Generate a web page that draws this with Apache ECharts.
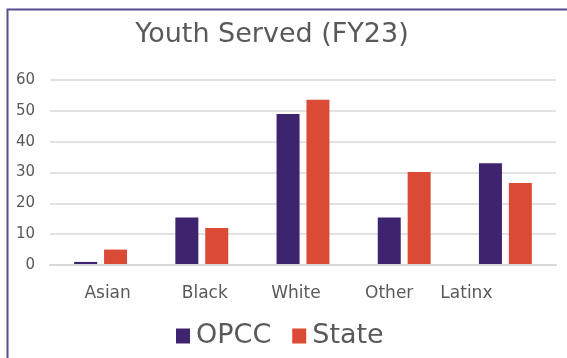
<!DOCTYPE html>
<html>
<head>
<meta charset="utf-8">
<script src="https://cdn.jsdelivr.net/npm/echarts@6/dist/echarts.min.js"></script>
<style>html,body{margin:0;padding:0;background:#fff;}#c{width:567px;height:358px;}</style>
</head>
<body>
<div id="c"></div>
<script>
const categories = ['Asian', 'Black', 'White', 'Other', 'Latinx'];
const opcc = [1, 15.4, 49, 15.4, 33];
const state = [5, 12, 53.6, 30.2, 26.6];
const seriesNames = ['OPCC', 'State'];
const yTicks = [0, 10, 20, 30, 40, 50, 60];

// label horizontal nudges (style only), matching the reference's label placement
const labelShift = { Asian: 7, Black: 3, White: -7, Other: -15, Latinx: -39 };
const rich = {};
categories.forEach(function (c, i) {
  const s = labelShift[c] || 0;
  rich['l' + i] = {
    fontSize: 17, color: '#595959', fontFamily: 'DejaVu Sans',
    padding: s >= 0 ? [0, 0, 0, 2 * s] : [0, -2 * s, 0, 0]
  };
});

const chart = echarts.init(document.getElementById('c'), null, { renderer: 'canvas' });
chart.setOption({
  animation: false,
  backgroundColor: '#ffffff',
  title: {
    text: 'Youth Served (FY23)',
    left: 267, textAlign: 'center', top: 16,
    textStyle: { fontFamily: 'DejaVu Sans', fontSize: 27, fontWeight: 'normal', color: '#595959' }
  },
  legend: {
    data: seriesNames,
    top: 315, left: 171,
    itemWidth: 14, itemHeight: 15, itemGap: 21,
    icon: 'rect',
    textStyle: { fontFamily: 'DejaVu Sans', fontSize: 27, color: '#595959', lineHeight: 32, padding: [0, 0, 0, 1] }
  },
  grid: { left: 50, right: 11, top: 80, bottom: 93, containLabel: false },
  xAxis: {
    type: 'category',
    data: categories,
    axisTick: { show: false },
    axisLine: { show: true, lineStyle: { color: '#d9d9d9', width: 2 } },
    axisLabel: {
      margin: 20,
      formatter: function (v, i) { return '{l' + i + '|' + v + '}'; },
      rich: rich
    },
    z: 5
  },
  yAxis: {
    type: 'value',
    min: yTicks[0], max: yTicks[yTicks.length - 1], interval: 10,
    axisLine: { show: false },
    axisTick: { show: false },
    axisLabel: { margin: 15, fontSize: 15, color: '#595959', fontFamily: 'DejaVu Sans' },
    splitLine: { lineStyle: { color: '#d9d9d9', width: 1.5 } }
  },
  series: [
    { name: seriesNames[0], type: 'bar', data: opcc, barWidth: 23, barGap: '30%', itemStyle: { color: '#3e236e' } },
    { name: seriesNames[1], type: 'bar', data: state, barWidth: 23, barGap: '30%', itemStyle: { color: '#db4a35' } }
  ],
  graphic: [{
    type: 'polyline',
    shape: { points: [[7.5, 358], [7.5, 9.5], [567, 9.5]] },
    style: { stroke: '#5a4a8e', lineWidth: 2, fill: null },
    silent: true
  }]
});
</script>
</body>
</html>
